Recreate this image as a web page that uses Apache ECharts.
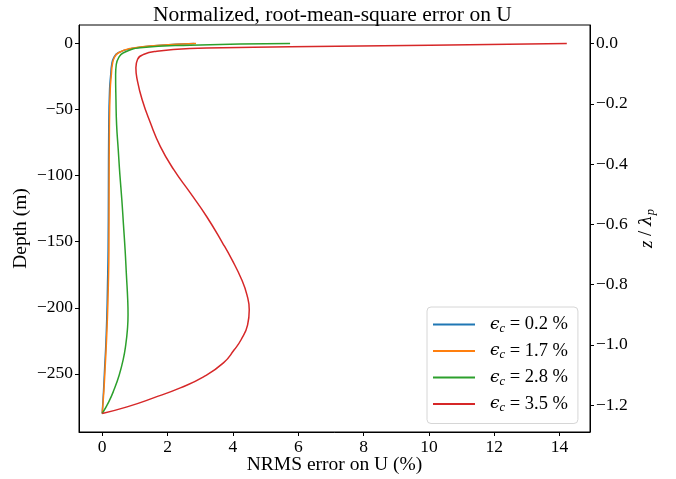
<!DOCTYPE html>
<html><head><meta charset="utf-8">
<script src="https://cdn.jsdelivr.net/npm/echarts@6/dist/echarts.min.js"></script>
<style>html,body{margin:0;padding:0;background:#fff}#c{width:676px;height:479px}</style>
</head><body><div id="c"></div>
<script>
// ---- data ----
const seriesLabels = ['0.2', '1.7', '2.8', '3.5'];
const seriesColors = ['#1f77b4', '#ff7f0e', '#2ca02c', '#d62728'];

const depthBlue = [0, -1.5, -3.8, -7.0, -10.8, -15.9, -23.5, -35, -63, -113, -156, -185, -207, -228, -245, -263, -280];
const errBlue   = [2.82, 1.70, 0.90, 0.49, 0.35, 0.29, 0.26, 0.225, 0.20, 0.19, 0.18, 0.16, 0.14, 0.11, 0.075, 0.04, 0];

const depthOrange = [0, -1.5, -3.8, -7.0, -10.8, -15.9, -23.5, -35, -63, -113, -156, -185, -207, -228, -245, -263, -280];
const errOrange   = [2.87, 1.67, 0.86, 0.50, 0.37, 0.31, 0.28, 0.245, 0.22, 0.21, 0.205, 0.185, 0.16, 0.125, 0.09, 0.05, 0];

const depthGreen = [0, -1.3, -3.3, -7.0, -10.8, -15.9, -23.5, -42.4, -61.4, -80.3, -99.2, -118.2, -137.1, -156.1, -175, -193.9, -205.3, -216.7, -228, -239.4, -250.8, -262.1, -271.2, -280];
const errGreen   = [5.75, 2.69, 1.16, 0.65, 0.50, 0.43, 0.41, 0.42, 0.44, 0.49, 0.54, 0.60, 0.65, 0.70, 0.74, 0.78, 0.79, 0.77, 0.72, 0.64, 0.52, 0.36, 0.20, 0];

const depthRed = [0, -1.3, -2.5, -3.8, -5.8, -8.3, -12.1, -18.4, -27.3, -42.4, -59.8, -78.0, -95.5, -112.9, -131.1, -150.8, -163.6, -178.8, -190.2, -201.5, -212.9, -224.2, -231.8, -241.7, -252.3, -260.6, -268.2, -275.0, -280];
const errRed   = [14.22, 10.03, 5.75, 2.69, 1.67, 1.26, 1.08, 1.03, 1.07, 1.22, 1.47, 1.78, 2.19, 2.69, 3.20, 3.68, 3.97, 4.27, 4.43, 4.50, 4.45, 4.25, 4.04, 3.71, 3.10, 2.39, 1.57, 0.76, 0];

const lambdaP = 228; // depth scale for the right axis (m)
const depthMin = -294, depthMax = 14;
const errMin = -0.711, errMax = 14.93;

// ---- chart ----
const depths = [depthBlue, depthOrange, depthGreen, depthRed];
const errs = [errBlue, errOrange, errGreen, errRed];
const serif = 'Liberation Serif';
const minus = s => String(s).replace('-', '\u2212');

const series = seriesLabels.map((lab, i) => ({
  name: lab,
  type: 'line',
  xAxisIndex: 0,
  yAxisIndex: 0,
  data: errs[i].map((e, k) => [e, depths[i][k]]),
  showSymbol: false,
  symbol: 'none',
  smooth: 0.5,
  lineStyle: { width: 1.5, color: seriesColors[i] },
  itemStyle: { color: seriesColors[i] },
  z: 2 + i
}));

const chart = echarts.init(document.getElementById('c'), null, { renderer: 'canvas' });
chart.setOption({
  animation: false,
  backgroundColor: '#fff',
  title: {
    text: 'Normalized, root-mean-square error on U',
    left: 148,
    top: -1,
    textStyle: { fontFamily: serif, fontWeight: 'normal', fontSize: 21.5, color: '#000' }
  },
  grid: { left: 79, right: 86, top: 25, bottom: 47, outerBoundsMode: 'none', containLabel: false, show: true, borderColor: '#000', borderWidth: 1, backgroundColor: 'transparent' },
  legend: {
    orient: 'vertical',
    left: 427, top: 307,
    padding: [8, 10, 9, 6],
    itemGap: 6.5,
    itemWidth: 42, itemHeight: 2,
    icon: 'rect',
    backgroundColor: '#fff',
    borderColor: '#d6d6d6',
    borderWidth: 1,
    borderRadius: 4,
    data: seriesLabels,
    formatter: name => '{e|\u03f5}{s|c}{t| = ' + name + ' %}',
    textStyle: {
      padding: [0, 0, 0, 10],
      rich: {
        e: { fontFamily: 'DejaVu Serif', fontStyle: 'italic', fontSize: 17, color: '#000' },
        s: { fontFamily: serif, fontStyle: 'italic', fontSize: 12.5, color: '#000', verticalAlign: 'bottom', padding: [8, 0, 0, 0] },
        t: { fontFamily: serif, fontSize: 18.5, color: '#000' }
      }
    }
  },
  xAxis: [{
    type: 'value',
    min: errMin, max: errMax,
    splitNumber: 8,
    name: 'NRMS error on U (%)',
    nameLocation: 'middle',
    nameGap: 23,
    nameMoveOverlap: false,
    nameTextStyle: { fontFamily: serif, fontSize: 19.5, color: '#000' },
    axisLine: { show: true, onZero: false, lineStyle: { color: '#000', width: 1 } },
    axisTick: { show: true, inside: false, length: 4, lineStyle: { color: '#000' } },
    axisLabel: { fontFamily: serif, fontSize: 17.5, color: '#000', margin: 6, showMinLabel: false, showMaxLabel: false, formatter: v => minus(v) },
    splitLine: { show: false }
  }],
  yAxis: [{
    type: 'value',
    position: 'left',
    min: depthMin, max: depthMax,
    name: 'Depth (m)',
    nameLocation: 'middle',
    nameGap: 48,
    nameMoveOverlap: false,
    nameRotate: 90,
    nameTextStyle: { fontFamily: serif, fontSize: 19.5, color: '#000' },
    axisLine: { show: true, onZero: false, lineStyle: { color: '#000', width: 1 } },
    axisTick: { show: true, inside: false, length: 4, lineStyle: { color: '#000' } },
    axisLabel: { fontFamily: serif, fontSize: 17.5, color: '#000', margin: 6, showMinLabel: false, showMaxLabel: false, formatter: v => minus(v) },
    splitLine: { show: false }
  }, {
    type: 'value',
    position: 'right',
    min: depthMin / lambdaP, max: depthMax / lambdaP,
    splitNumber: 7,
    name: '{i|z} / {l|\u03bb}{p|p}',
    nameLocation: 'middle',
    nameGap: 46,
    nameMoveOverlap: false,
    nameRotate: 90,
    nameTextStyle: {
      fontFamily: serif, fontSize: 19, color: '#000',
      rich: {
        i: { fontFamily: serif, fontStyle: 'italic', fontSize: 19, color: '#000' },
        l: { fontFamily: 'DejaVu Serif', fontStyle: 'italic', fontSize: 17, color: '#000' },
        p: { fontFamily: serif, fontStyle: 'italic', fontSize: 12.5, color: '#000', verticalAlign: 'bottom', padding: [8, 0, 0, 0] }
      }
    },
    axisLine: { show: true, onZero: false, lineStyle: { color: '#000', width: 1 } },
    axisTick: { show: true, inside: false, length: 4, lineStyle: { color: '#000' } },
    axisLabel: { fontFamily: serif, fontSize: 17.5, color: '#000', margin: 6, showMinLabel: false, showMaxLabel: false, formatter: v => minus(Number(v).toFixed(1)) },
    splitLine: { show: false }
  }],
  series: series
});
</script>
</body></html>
